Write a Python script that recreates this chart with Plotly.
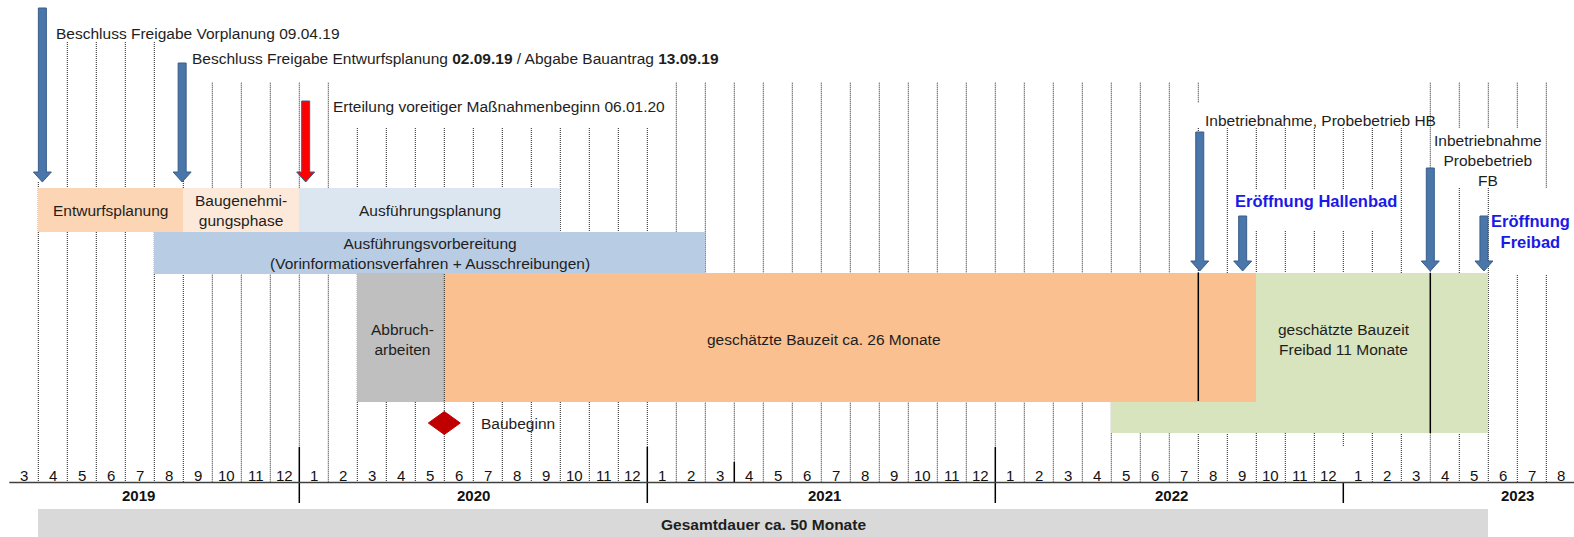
import plotly.graph_objects as go

# ---------------- data ----------------
# month index: 0 = start of March 2019, 1 = start of April 2019, ... 53 = start of August 2023
month_labels = [3, 4, 5, 6, 7, 8, 9, 10, 11, 12,
                1, 2, 3, 4, 5, 6, 7, 8, 9, 10, 11, 12,
                1, 2, 3, 4, 5, 6, 7, 8, 9, 10, 11, 12,
                1, 2, 3, 4, 5, 6, 7, 8, 9, 10, 11, 12,
                1, 2, 3, 4, 5, 6, 7, 8]
years = ["2019", "2020", "2021", "2022", "2023"]
year_label_month = [4.47, 16.0, 28.1, 40.06, 52.0]
year_boundaries = [10, 22, 34, 46]

task_labels = ["Entwurfsplanung", "Baugenehmi-<br>gungsphase", "Ausführungsplanung",
               "Ausführungsvorbereitung<br>(Vorinformationsverfahren + Ausschreibungen)",
               "Abbruch-<br>arbeiten", "geschätzte Bauzeit ca. 26 Monate",
               "geschätzte Bauzeit<br>Freibad 11 Monate", "", "<b>Gesamtdauer ca. 50 Monate</b>"]
task_start = [1, 6, 10, 5, 12, 15, 43, 38, 1]
task_end = [6, 10, 19, 24, 15, 43, 51, 51, 51]
task_lane = ["plan", "plan", "plan", "prep", "build", "build", "build", "build_low", "total"]
task_colors = ["#FCD5B4", "#FDE9D9", "#DCE6F1", "#B8CCE4", "#BFBFBF", "#FAC090",
               "#D7E4BD", "#D7E4BD", "#D9D9D9"]
task_label_month = [3.5, 8.0, 14.5, 14.5, 13.55, 28.08, 46.03, None, 26.0]

event_labels = ["Beschluss Freigabe Vorplanung 09.04.19",
                "Beschluss Freigabe Entwurfsplanung <b>02.09.19</b> / Abgabe Bauantrag <b>13.09.19</b>",
                "Erteilung voreitiger Maßnahmenbeginn 06.01.20",
                "Inbetriebnahme, Probebetrieb HB",
                "<b>Eröffnung Hallenbad</b>",
                "Inbetriebnahme<br>Probebetrieb<br>FB",
                "<b>Eröffnung<br>Freibad</b>"]
event_month = [1.14, 5.96, 10.22, 41.05, 42.53, 49.0, 50.85]
event_color = ["#4A76AA", "#4A76AA", "#FF0000", "#4A76AA", "#4A76AA", "#4A76AA", "#4A76AA"]

milestone_label = "Baubeginn"
milestone_month = 15

phase_markers = [41, 49]  # solid lines inside the construction bars

# ---------------- layout constants (pixels from top) ----------------
W, H = 1574, 537
PX_PER_MONTH = 29.0
X0 = -9.3 / PX_PER_MONTH
X1 = X0 + W / PX_PER_MONTH

lanes = {"plan": (188, 232), "prep": (232, 274), "build": (273, 402),
         "build_low": (402, 433), "total": (509, 545)}
lane_text_y = {"plan": 210, "prep": 253, "build": 339.5, "total": 524}

arrow_top = [8, 63, 101, 132, 216, 168, 216]
arrow_tip = [182, 182, 182, 271, 271, 271, 271]
label_pos = [(1.54, 33, "left"), (6.23, 58.7, "left"), (11.08, 106.7, "left"),
             (41.16, 120, "left"), (42.2, 201, "left"), (50.99, 160, "center"),
             (52.47, 231, "center")]

FONT = "Liberation Sans, Arial, sans-serif"
TXT = "#1E1E1E"
FS = 15.5


def px(p):
    return p / PX_PER_MONTH


fig = go.Figure()

# ---------------- bars ----------------
bars_y, bars_w, bars_base, bars_len = [], [], [], []
for s, e, ln in zip(task_start, task_end, task_lane):
    y0, y1 = lanes[ln]
    bars_y.append((y0 + y1) / 2)
    bars_w.append(y1 - y0)
    bars_base.append(s)
    bars_len.append(e - s)

fig.add_trace(go.Bar(orientation="h", y=bars_y, x=bars_len, base=bars_base, width=bars_w,
                     marker=dict(color=task_colors, line=dict(width=0)),
                     hoverinfo="skip", showlegend=False))

shapes = []


# ---------------- dotted month grid ----------------
def segments_for(m):
    if m == 1:
        segs = [(182, 482)]
    elif 2 <= m <= 5:
        segs = [(42, 482)]
    elif m == 6:
        segs = [(63, 482)]
    elif 12 <= m <= 22:
        segs = [(128, 482)]
    elif m == 41:
        segs = [(82.7, 103), (128, 482)]
    elif 43 <= m <= 47:
        segs = [(128, 190), (231, 482)]
    elif m in (42, 48):
        segs = [(128, 482)]
    elif m in (50, 51):
        segs = [(82.7, 128), (188, 482)]
    elif m == 52:
        segs = [(82.7, 128), (275, 482)]
    elif m == 53:
        segs = [(82.7, 188), (275, 482)]
    else:
        segs = [(82.7, 482)]
    out = []
    for a, b in segs:
        if m in (10, 22, 34):
            b = min(b, 447)
        if m == 46:
            b = min(b, 446)
        out.append((a, b))
    return out


for m in range(1, 54):
    for a, b in segments_for(m):
        shapes.append(dict(type="line", xref="x", yref="y", x0=m, x1=m, y0=a, y1=b,
                           line=dict(color="#202020", width=1, dash="1px,1px"), layer="below"))

# dotted line over the Abbruch / Bauzeit boundary
shapes.append(dict(type="line", xref="x", yref="y", x0=15, x1=15, y0=274, y1=402,
                   line=dict(color="#202020", width=1, dash="1px,1px"), layer="above"))

# year boundaries
for yb in year_boundaries:
    y0 = 482 if yb == 46 else 447
    shapes.append(dict(type="line", xref="x", yref="y", x0=yb, x1=yb, y0=y0, y1=503,
                       line=dict(color="#000000", width=1.5), layer="above"))
shapes.append(dict(type="line", xref="x", yref="y", x0=25, x1=25, y0=462, y1=482,
                   line=dict(color="#000000", width=1.5), layer="above"))

# axis line
shapes.append(dict(type="line", xref="x", yref="y", x0=0, x1=X1, y0=482.5, y1=482.5,
                   line=dict(color="#404040", width=1.5), layer="above"))

# solid phase markers
for pm in phase_markers:
    y1 = 433 if pm == 49 else 401
    shapes.append(dict(type="line", xref="x", yref="y", x0=pm, x1=pm, y0=273, y1=y1,
                       line=dict(color="#000000", width=1.5), layer="above"))

# arrows
hs, hh, hl = px(4.0), px(9), 10
for m, top, tip, col in zip(event_month, arrow_top, arrow_tip, event_color):
    path = (f"M {m - hs},{top} L {m + hs},{top} L {m + hs},{tip - hl} L {m + hh},{tip - hl} "
            f"L {m},{tip} L {m - hh},{tip - hl} L {m - hs},{tip - hl} Z")
    shapes.append(dict(type="path", xref="x", yref="y", path=path, fillcolor=col,
                       line=dict(color="#385D8A", width=1), layer="above"))

# milestone diamond
dw, dh = px(16), 11.5
my = 423
shapes.append(dict(type="path", xref="x", yref="y",
                   path=f"M {milestone_month - dw},{my} L {milestone_month},{my - dh} "
                        f"L {milestone_month + dw},{my} L {milestone_month},{my + dh} Z",
                   fillcolor="#C00000", line=dict(color="#C00000", width=1), layer="above"))

# ---------------- annotations ----------------
ann = []
for i, lab in enumerate(month_labels):
    ann.append(dict(x=i + 0.5, y=475, text=str(lab), showarrow=False, xref="x", yref="y",
                    font=dict(family=FONT, size=15, color="#111111")))
for yl, ym in zip(years, year_label_month):
    ann.append(dict(x=ym, y=495, text=f"<b>{yl}</b>", showarrow=False, xref="x", yref="y",
                    font=dict(family=FONT, size=15, color="#111111")))
for lab, lm, ln in zip(task_labels, task_label_month, task_lane):
    if not lab:
        continue
    ann.append(dict(x=lm, y=lane_text_y[ln], text=lab, showarrow=False, xref="x", yref="y",
                    font=dict(family=FONT, size=FS, color=TXT)))
for lab, (lx, ly, anc) in zip(event_labels, label_pos):
    blue = lab.startswith("<b>Er")
    ann.append(dict(x=lx, y=ly, text=lab, showarrow=False, xref="x", yref="y",
                    xanchor=anc, yanchor="middle", align="center",
                    font=dict(family=FONT, size=16.5 if blue else FS,
                              color="#1A1AE6" if blue else TXT)))
ann.append(dict(x=milestone_month + px(35), y=423, text=milestone_label, showarrow=False,
                xref="x", yref="y", xanchor="left",
                font=dict(family=FONT, size=FS, color=TXT)))

fig.update_layout(
    width=W, height=H, margin=dict(l=0, r=0, t=0, b=0),
    paper_bgcolor="white", plot_bgcolor="white",
    xaxis=dict(range=[X0, X1], visible=False, fixedrange=True),
    yaxis=dict(range=[H, 0], visible=False, fixedrange=True),
    barmode="overlay", bargap=0,
    shapes=shapes, annotations=ann, showlegend=False,
)

fig.write_html("out.html", config={"displayModeBar": False},
               post_script="document.body.style.margin='0px';document.body.style.overflow='hidden';")
